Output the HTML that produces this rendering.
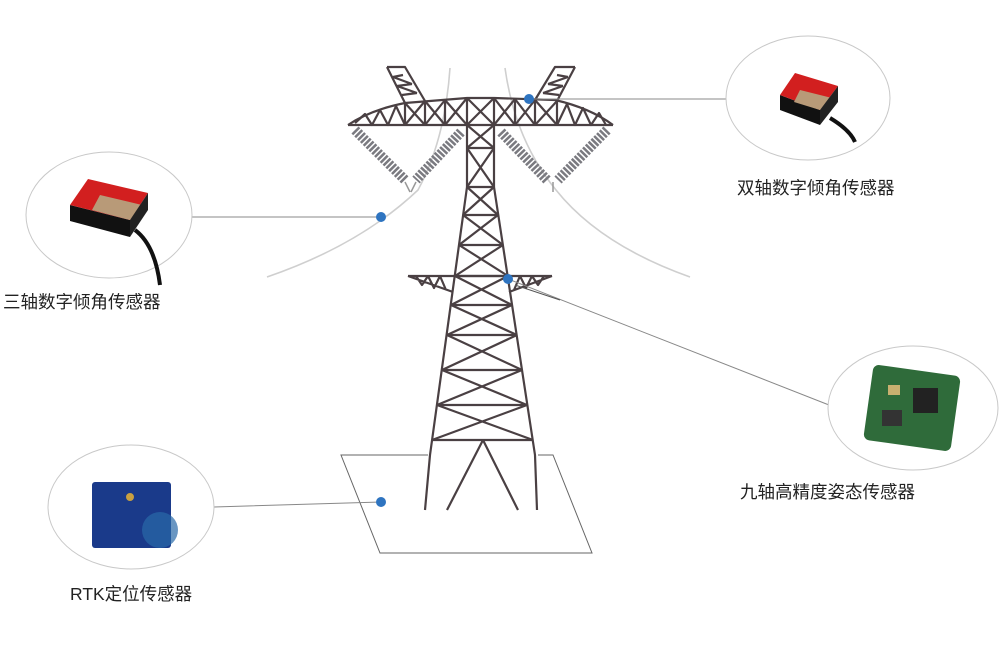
<!DOCTYPE html>
<html><head><meta charset="utf-8"><style>
body{margin:0;background:#fff;width:999px;height:653px;overflow:hidden;font-family:"Liberation Sans","Noto Sans CJK SC",sans-serif}
.l{position:absolute;font-size:17.5px;color:#222;white-space:nowrap}
</style></head><body>
<svg width="999" height="653" style="position:absolute;left:0;top:0">
<g fill="none" stroke="#cfcfcf" stroke-width="1.6">
<path d="M267,277 Q360,245 418,190 Q445,140 450,68"/>
<path d="M690,277 Q600,245 556,190 Q515,140 505,68"/>
</g>
<g stroke="#666" stroke-width="1" fill="none">
<path d="M428,455 L341,455 L380,553 L592,553 L553,455 L538,455"/>
</g>
<g stroke="#4a4043" stroke-width="2.2" fill="none" stroke-linejoin="round">
<path d="M348,125 L613,125"/>
<path d="M348,125 Q370,110 405,103 L467,98 L494,98 L555,100 Q590,108 613,125"/>
<path d="M467,98 L467,187 M494,98 L494,187 M467,148 L494,148 M467,187 L494,187"/>
<path d="M467,98 L494,125 M494,98 L467,125 M467,125 L494,148 M494,125 L467,148 M467,148 L494,187 M494,148 L467,187"/>
<path d="M405,103 L405,125 M425,101 L425,125 M445,100 L445,125 M515,99 L515,125 M535,100 L535,125 M557,101 L557,125"/>
<path d="M405,103 L425,125 M425,101 L405,125 M425,101 L445,125 M445,100 L425,125 M445,100 L467,125 M467,98 L445,125 M494,98 L515,125 M515,99 L494,125 M515,99 L535,125 M535,100 L515,125 M535,100 L557,125 M557,101 L535,125"/>
<path d="M355,123 L365,114 L372,125 L380,110 L388,125 L396,106 L405,125 M557,125 L567,104 L575,125 L583,108 L591,125 L599,113 L606,125"/>
<path d="M387,67 L405,67 L425,101 M387,67 L405,103 M393,77 L403,75 M397,86 L412,84 M402,95 L417,93 M393,77 L412,84 M397,86 L417,93"/>
<path d="M575,67 L555,67 L535,100 M575,67 L557,101 M568,77 L557,75 M563,86 L548,84 M559,95 L543,93 M568,77 L548,84 M563,86 L543,93"/>
<path d="M467,187 L430,455 L425,510 M494,187 L535,455 L537,510"/>
<path d="M483,440 L447,510 M483,440 L518,510 M432,440 L483,440 L533,440"/>
<path d="M467,187 L498,215 M494,187 L463,215 M463,215 L498,215 M463,215 L503,245 M498,215 L459,245 M459,245 L503,245 M459,245 L508,276 M503,245 L455,276 M455,276 L508,276 M455,276 L512,305 M508,276 L451,305 M451,305 L512,305 M451,305 L517,335 M512,305 L447,335 M447,335 L517,335 M447,335 L522,370 M517,335 L442,370 M442,370 L522,370 M442,370 L527,405 M522,370 L437,405 M437,405 L527,405 M437,405 L533,440 M527,405 L432,440"/>
<path d="M408,276 L552,276 M408,276 L453,292 M552,276 L509,292 M416,276 L422,285 L428,276 L434,288 L440,276 L446,290 M544,276 L538,285 L532,276 L526,288 L520,276 L514,290"/>
</g>
<g stroke="#7a7a80" stroke-width="10" stroke-dasharray="2.5 1.5" fill="none">
<path d="M355,130 L405,180"/><path d="M461,132 L416,180"/>
<path d="M501,132 L547,180"/><path d="M607,130 L558,180"/>
</g>
<g stroke="#999" stroke-width="1.5" fill="none">
<path d="M405,182 L410,192 M416,182 L411,192"/><path d="M553,182 L553,192"/>
</g>
<g stroke="#888" stroke-width="1">
<path d="M192,217 L381,217 M529,99 L727,99 M508,279 L829,405 M214,507 L381,502"/>
<path d="M515,285 L560,300" stroke="#555"/>
</g>
<g fill="#2e74c0"><circle cx="381" cy="217" r="5"/><circle cx="529" cy="99" r="5"/><circle cx="508" cy="279" r="5"/><circle cx="381" cy="502" r="5"/></g>
<g fill="#fff" stroke="#c8c8c8" stroke-width="1">
<ellipse cx="109" cy="215" rx="83" ry="63"/><ellipse cx="808" cy="98" rx="82" ry="62"/>
<ellipse cx="913" cy="408" rx="85" ry="62"/><ellipse cx="131" cy="507" rx="83" ry="62"/>
</g>
<g transform="translate(70,175)">
<path d="M0,30 L60,45 L60,62 L0,46Z" fill="#111"/>
<path d="M0,30 L18,4 L78,18 L60,45Z" fill="#d21f1f"/>
<path d="M30,20 L72,30 L60,45 L22,35Z" fill="#b89a78"/>
<path d="M60,45 L78,18 L78,35 L60,62Z" fill="#222"/>
<path d="M65,55 Q85,70 90,110" stroke="#111" stroke-width="4" fill="none"/>
</g>
<g transform="translate(780,70)">
<path d="M0,25 L40,40 L40,55 L0,40Z" fill="#111"/>
<path d="M0,25 L15,3 L58,16 L40,40Z" fill="#d21f1f"/>
<path d="M20,20 L52,28 L40,40 L14,32Z" fill="#b89a78"/>
<path d="M40,40 L58,16 L58,32 L40,55Z" fill="#222"/>
<path d="M50,48 Q70,60 75,72" stroke="#111" stroke-width="4" fill="none"/>
</g>
<g transform="translate(868,370)">
<rect x="0" y="0" width="88" height="76" rx="6" fill="#2f6b3a" transform="rotate(8 44 38)"/>
<rect x="45" y="18" width="25" height="25" fill="#222"/>
<rect x="14" y="40" width="20" height="16" fill="#333"/>
<rect x="20" y="15" width="12" height="10" fill="#c8b070"/>
</g>
<rect x="92" y="482" width="79" height="66" rx="3" fill="#1a3a8a"/>
<circle cx="160" cy="530" r="18" fill="#2a6aa8" opacity="0.7"/>
<circle cx="130" cy="497" r="4" fill="#c9a040"/>
</svg>
<div class="l" style="left:3px;top:289px">三轴数字倾角传感器</div>
<div class="l" style="left:737px;top:175px">双轴数字倾角传感器</div>
<div class="l" style="left:740px;top:479px">九轴高精度姿态传感器</div>
<div class="l" style="left:70px;top:581px">RTK定位传感器</div>
</body></html>
